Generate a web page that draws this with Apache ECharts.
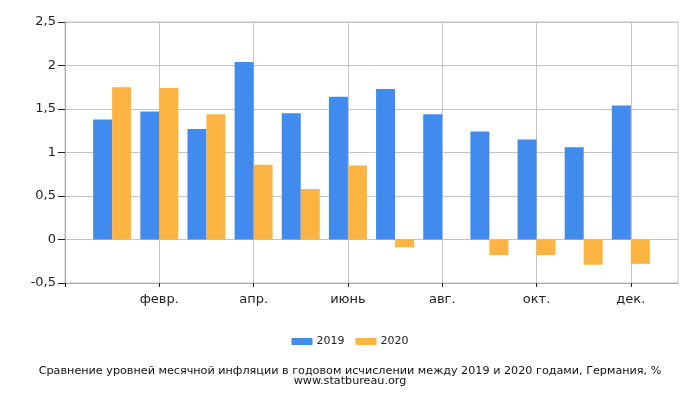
<!DOCTYPE html>
<html>
<head>
<meta charset="utf-8">
<script src="https://cdn.jsdelivr.net/npm/echarts@6/dist/echarts.min.js"></script>
<style>
html,body{margin:0;padding:0;background:#fff;}
#chart{width:700px;height:400px;}
</style>
</head>
<body>
<div id="chart"></div>
<script>
const months = ['янв.', 'февр.', 'март', 'апр.', 'май', 'июнь', 'июль', 'авг.', 'сент.', 'окт.', 'нояб.', 'дек.'];
const values2019 = [1.38, 1.47, 1.27, 2.04, 1.45, 1.64, 1.73, 1.44, 1.24, 1.15, 1.06, 1.54];
const values2020 = [1.75, 1.74, 1.44, 0.86, 0.58, 0.85, -0.09, 0, -0.18, -0.18, -0.29, -0.28];
const yTicks = [-0.5, 0, 0.5, 1, 1.5, 2, 2.5];

const categories = [''].concat(months, ['']);
const pad = arr => [null].concat(arr, [null]);

const chart = echarts.init(document.getElementById('chart'), null, {renderer: 'canvas'});
const font = 'DejaVu Sans';
chart.setOption({
  animation: false,
  textStyle: {fontFamily: font},
  grid: {left: 65, right: 22, top: 22, bottom: 117, show: true, borderColor: '#c4c4c4', borderWidth: 1},
  xAxis: {
    type: 'category',
    data: categories,
    boundaryGap: false,
    axisLine: {show: true, onZero: false, lineStyle: {color: '#aaa', width: 1}},
    axisTick: {show: true, interval: 1, length: 4, lineStyle: {color: '#222'}},
    axisLabel: {interval: 1, margin: 10, fontSize: 13, color: '#222', fontFamily: font},
    splitLine: {show: true, interval: 1, lineStyle: {color: '#c4c4c4', width: 1}}
  },
  yAxis: {
    type: 'value',
    min: yTicks[0],
    max: yTicks[yTicks.length - 1],
    interval: 0.5,
    axisLine: {show: true, lineStyle: {color: '#aaa', width: 1}},
    axisTick: {show: true, length: 7, lineStyle: {color: '#222'}},
    axisLabel: {margin: 9, fontSize: 13, color: '#222', fontFamily: font,
      formatter: v => String(v).replace('.', ',')},
    splitLine: {show: true, lineStyle: {color: '#c4c4c4', width: 1}}
  },
  legend: {
    data: ['2019', '2020'],
    left: 'center',
    top: 331,
    itemWidth: 21,
    itemHeight: 7,
    itemGap: 11,
    icon: 'rect',
    textStyle: {fontSize: 11, color: '#222', fontFamily: font, padding: [0, 0, 0, -1]}
  },
  title: {
    text: 'Сравнение уровней месячной инфляции в годовом исчислении между 2019 и 2020 годами, Германия, %\nwww.statbureau.org',
    left: 'center',
    top: 366,
    padding: 0,
    textStyle: {fontSize: 11.2, fontWeight: 'normal', color: '#111', lineHeight: 10, fontFamily: font}
  },
  series: [
    {name: '2019', type: 'bar', data: pad(values2019), barWidth: 19, barGap: '0%', itemStyle: {color: '#428bee'}},
    {name: '2020', type: 'bar', data: pad(values2020), barWidth: 19, barGap: '0%', itemStyle: {color: '#fbb342'}}
  ]
});
</script>
</body>
</html>
